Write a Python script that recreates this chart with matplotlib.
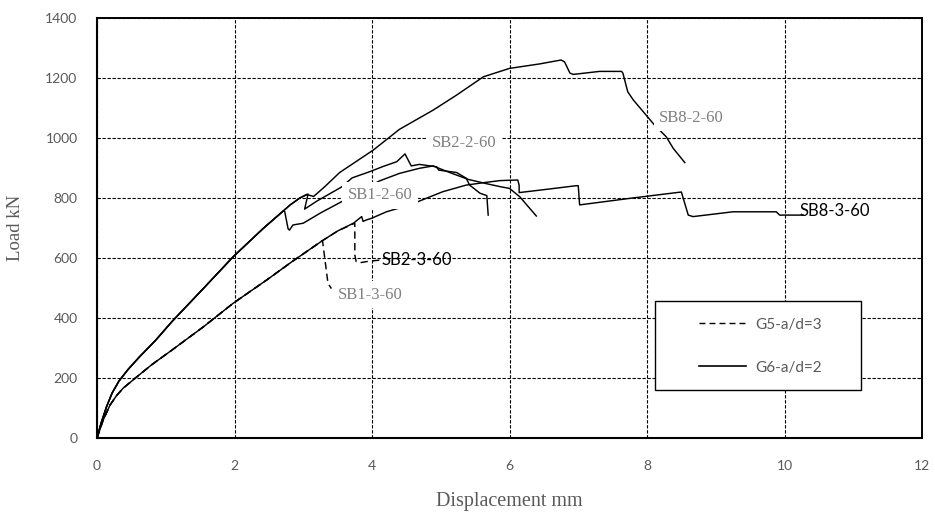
import matplotlib
matplotlib.use('Agg')
import matplotlib.pyplot as plt
from matplotlib.lines import Line2D
from matplotlib.patches import Rectangle

# ---- data ----
rise2_x = [0, 0.06, 0.14, 0.22, 0.32, 0.45, 0.62, 0.85, 1.09, 1.55, 1.98, 2.42, 2.71]
rise2_y = [0, 50, 105, 150, 190, 228, 271, 325, 388, 499, 604, 699, 757]

rise3_x = [0, 0.09, 0.19, 0.28, 0.38, 0.58, 0.8, 1.09, 1.55, 1.98, 2.47, 2.85, 3.28]
rise3_y = [0, 60, 110, 140, 166, 204, 245, 293, 371, 449, 527, 590, 658]

sb82_x = rise2_x + [2.81, 2.95, 3.05, 3.15, 3.3, 3.53, 4.02, 4.4, 4.89, 5.23, 5.62, 6.0, 6.44,
                    6.75, 6.8, 6.88, 6.93, 7.31, 7.63, 7.65, 7.72, 7.8, 8.11, 8.18, 8.28, 8.38, 8.55]
sb82_y = rise2_y + [777, 800, 812, 805, 835, 885, 960, 1029, 1093, 1143, 1204, 1232, 1247,
                    1260, 1254, 1216, 1212, 1222, 1222, 1216, 1154, 1127, 1043, 1027, 1004, 966, 918]

sb22_x = rise2_x + [2.81, 2.95, 3.07, 3.02, 3.2, 3.56, 3.71, 3.97, 4.16, 4.36, 4.48, 4.57, 4.69,
                    4.94, 4.97, 5.23, 5.37, 5.42, 5.57, 5.67, 5.69]
sb22_y = rise2_y + [777, 800, 813, 763, 790, 837, 867, 888, 905, 921, 947, 907, 912,
                    904, 893, 885, 866, 843, 816, 808, 743]

sb12_x = rise2_x + [2.73, 2.78, 2.8, 2.85, 3.0, 3.25, 3.56, 4.11, 4.4, 4.69, 4.89, 4.94, 5.13,
                    5.4, 5.66, 5.86, 6.0, 6.15, 6.39]
sb12_y = rise2_y + [755, 697, 693, 710, 716, 750, 788, 857, 882, 899, 907, 902, 885,
                    862, 848, 838, 832, 804, 740]

sb83_x = rise3_x + [3.5, 3.73, 3.85, 3.87, 3.92, 3.99, 4.21, 4.55, 4.67, 5.03, 5.37, 5.62, 5.86,
                    6.12, 6.14, 6.14, 6.58, 6.97, 7.0, 7.02, 7.79, 8.5, 8.6, 8.67, 9.25, 9.88,
                    9.93, 10.27]
sb83_y = rise3_y + [690, 716, 738, 722, 727, 732, 754, 777, 788, 821, 843, 851, 858,
                    860, 843, 818, 830, 841, 841, 777, 800, 820, 743, 738, 754, 754,
                    743, 743]

sb23_x = rise3_x + [3.5, 3.73, 3.75, 3.75, 3.77, 3.82, 3.92, 4.11]
sb23_y = rise3_y + [690, 714, 716, 610, 588, 584, 588, 593]

sb13_x = rise3_x + [3.36, 3.41]
sb13_y = rise3_y + [515, 498]

x_ticks = [0, 2, 4, 6, 8, 10, 12]
y_ticks = [0, 200, 400, 600, 800, 1000, 1200, 1400]

legend_labels = ['G5-a/d=3', 'G6-a/d=2']

# serif (grey, boxed) labels and sans (black) labels: text, x, y
serif_labels = [('SB8-2-60', 8.18, 1067), ('SB2-2-60', 4.87, 983),
                ('SB1-2-60', 3.65, 810), ('SB1-3-60', 3.5, 477)]
sans_labels = [('SB2-3-60', 4.14, 593), ('SB8-3-60', 10.22, 757)]

# ---- figure ----
fig = plt.figure(figsize=(9.35, 5.17), dpi=100)
ax = fig.add_axes([97/935, 79/517, 825/935, 420/517])

SANS = ['Lato', 'DejaVu Sans']
SERIF = ['Liberation Serif', 'DejaVu Serif']
GREY = '#595959'

solid_kw = dict(color='black', lw=1.05, solid_joinstyle='round', zorder=2)
dash_kw = dict(color='black', lw=1.05, linestyle=(0, (5, 3)), zorder=2)

ax.plot(sb82_x, sb82_y, **solid_kw)
ax.plot(sb22_x, sb22_y, **solid_kw)
ax.plot(sb12_x, sb12_y, **solid_kw)
ax.plot(sb83_x, sb83_y, **solid_kw)
ax.plot(sb23_x, sb23_y, **dash_kw)
ax.plot(sb13_x, sb13_y, **dash_kw)

ax.set_xlim(0, 12)
ax.set_ylim(0, 1400)
ax.set_xticks(x_ticks)
ax.set_yticks(y_ticks)
ax.set_axisbelow(True)
ax.grid(True, color='black', linestyle=(0, (3, 1.5)), linewidth=0.8)

ax.tick_params(length=0, labelsize=10, labelcolor=GREY)
ax.tick_params(axis='y', pad=14)
ax.tick_params(axis='x', pad=16)
for lab in ax.get_xticklabels() + ax.get_yticklabels():
    lab.set_family(SANS)

for s in ['left', 'bottom']:
    ax.spines[s].set_linewidth(1.5)
    ax.spines[s].set_color('black')
for s in ['top', 'right']:
    ax.spines[s].set_linewidth(1.4)
    ax.spines[s].set_linestyle((0, (2, 1)))
    ax.spines[s].set_color('black')

ax.set_xlabel('Displacement mm', family=SERIF, fontsize=14.5, color=GREY)
ax.set_ylabel('Load kN', family=SERIF, fontsize=13.5, color=GREY)
ax.xaxis.set_label_coords(0.5, -0.128)
ax.yaxis.set_label_coords(-0.088, 0.5)

for txt, x, y in serif_labels:
    ax.text(x, y, txt, family=SERIF, fontsize=12, color='#7f7f7f', ha='left', va='center',
            zorder=3, bbox=dict(facecolor='white', edgecolor='none', pad=4))
for txt, x, y in sans_labels:
    ax.text(x, y, txt, family=SANS, fontsize=12, color='black', ha='left', va='center', zorder=3)

# legend
ax.add_patch(Rectangle((0.676, 0.114), 0.25, 0.212, transform=ax.transAxes,
                       facecolor='white', edgecolor='black', lw=1.0, zorder=4))
handles = [Line2D([], [], color='black', lw=1.0, linestyle=(0, (4.3, 2.9))),
           Line2D([], [], color='black', lw=1.2)]
leg = ax.legend(handles, legend_labels, frameon=False, loc='center',
                bbox_to_anchor=(0.804, 0.219), handlelength=3.1, handletextpad=0.6,
                labelspacing=1.9, prop={'family': SANS, 'size': 11}, labelcolor=GREY)
leg.set_zorder(5)

fig.savefig('out.png', dpi=100)
